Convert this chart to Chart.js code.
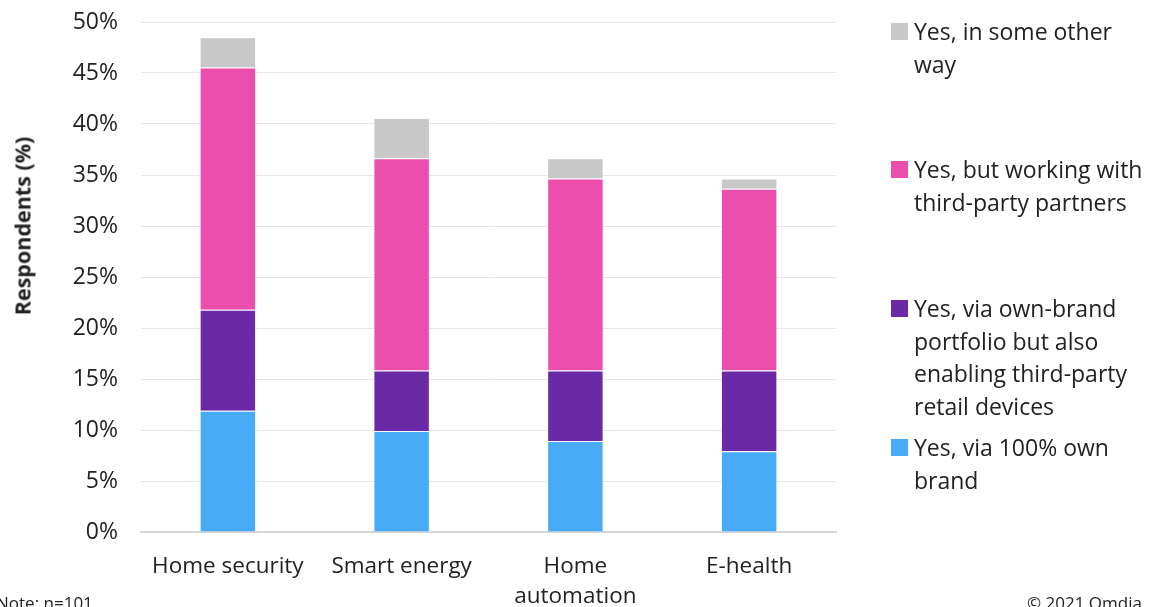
<!DOCTYPE html>
<html>
<head>
<meta charset="utf-8">
<script src="https://cdn.jsdelivr.net/npm/chart.js@4.4.1/dist/chart.umd.min.js"></script>
<style>
  html, body { margin: 0; padding: 0; background: #fff; }
  #wrap { position: relative; width: 1155px; height: 607px; overflow: hidden; font-family: "Open Sans", sans-serif; color: #222; }
  #chart { position: absolute; left: 0; top: 0; }
  .ytitle { position: absolute; left: 22px; top: 226px; transform: translate(-50%, -50%) rotate(-90deg); font-weight: bold; font-size: 21.5px; white-space: nowrap; }
  .legend-item { position: absolute; left: 891px; font-size: 23px; line-height: 32.5px; }
  .legend-item .box { position: absolute; left: 0; top: 8px; width: 17px; height: 17px; }
  .legend-item .txt { margin-left: 23px; white-space: nowrap; }
  .note { position: absolute; font-size: 17px; }
</style>
</head>
<body>
<div id="wrap">
  <canvas id="chart" width="1155" height="607"></canvas>
  <div class="ytitle">Respondents (%)</div>
  <div id="legend"></div>
  <div class="note" style="left:-4px; top:591px;">Note: n=101</div>
  <div class="note" style="left:1027px; top:591px;">© 2021 Omdia</div>
</div>
<script>
// Categories and segment values (% of respondents, n=101)
const categories = ['Home security', 'Smart energy', ['Home', 'automation'], 'E-health'];
const ownBrand = [11.88, 9.90, 8.91, 7.92];
const ownBrandPlus = [9.90, 5.94, 6.93, 7.92];
const thirdParty = [23.76, 20.79, 18.81, 17.82];
const otherWay = [2.97, 3.96, 1.98, 0.99];
const yTicks = [0, 5, 10, 15, 20, 25, 30, 35, 40, 45, 50];

const series = [
  { label: 'Yes, via 100% own brand', lines: ['Yes, via 100% own', 'brand'], data: ownBrand, color: '#47abf8', top: 431 },
  { label: 'Yes, via own-brand portfolio but also enabling third-party retail devices', lines: ['Yes, via own-brand', 'portfolio but also', 'enabling third-party', 'retail devices'], data: ownBrandPlus, color: '#6a2aa6', top: 292 },
  { label: 'Yes, but working with third-party partners', lines: ['Yes, but working with', 'third-party partners'], data: thirdParty, color: '#eb4ead', top: 153 },
  { label: 'Yes, in some other way', lines: ['Yes, in some other', 'way'], data: otherWay, color: '#c8c8c8', top: 15 }
];

// Legend on the right, top to bottom in reverse stacking order
function buildLegend() {
  const legend = document.getElementById('legend');
  series.forEach(s => {
    const item = document.createElement('div');
    item.className = 'legend-item';
    item.style.top = s.top + 'px';
    item.innerHTML = `<span class="box" style="background:${s.color}"></span><div class="txt">${s.lines.join('<br>')}</div>`;
    legend.appendChild(item);
  });
}

function initChart() {
  const ctx = document.getElementById('chart');
  new Chart(ctx, {
    type: 'bar',
    data: {
      labels: categories,
      datasets: series.map(s => ({
        label: s.label,
        data: s.data,
        backgroundColor: s.color,
        borderColor: 'rgba(255,255,255,0.5)',
        borderWidth: 1,
        barPercentage: 0.325,
        categoryPercentage: 1
      }))
    },
    options: {
      responsive: false,
      animation: false,
      layout: { padding: { top: 0, right: 319, left: 0, bottom: 0 } },
      plugins: {
        legend: { display: false },
        tooltip: { enabled: false }
      },
      scales: {
        x: {
          stacked: true,
          grid: { display: false, drawTicks: false },
          border: { color: '#d6d6d6', width: 2 },
          ticks: { color: '#222', font: { family: 'Open Sans', size: 22.5, lineHeight: 1.35 }, padding: 19, maxRotation: 0 },
          afterFit: scale => { scale.height = 75; }
        },
        y: {
          stacked: true,
          min: 0,
          max: 50,
          afterBuildTicks: scale => { scale.ticks = yTicks.map(v => ({ value: v })); },
          grid: { color: '#e6e6e6', lineWidth: 1, drawTicks: false },
          border: { display: false },
          ticks: {
            color: '#222',
            font: { family: 'Open Sans', size: 23 },
            padding: 23,
            callback: v => v + '%'
          },
          afterFit: scale => { scale.width = 141; scale.paddingTop = 22; scale.paddingBottom = 0; }
        }
      }
    }
  });
}

buildLegend();
initChart();
</script>
</body>
</html>
